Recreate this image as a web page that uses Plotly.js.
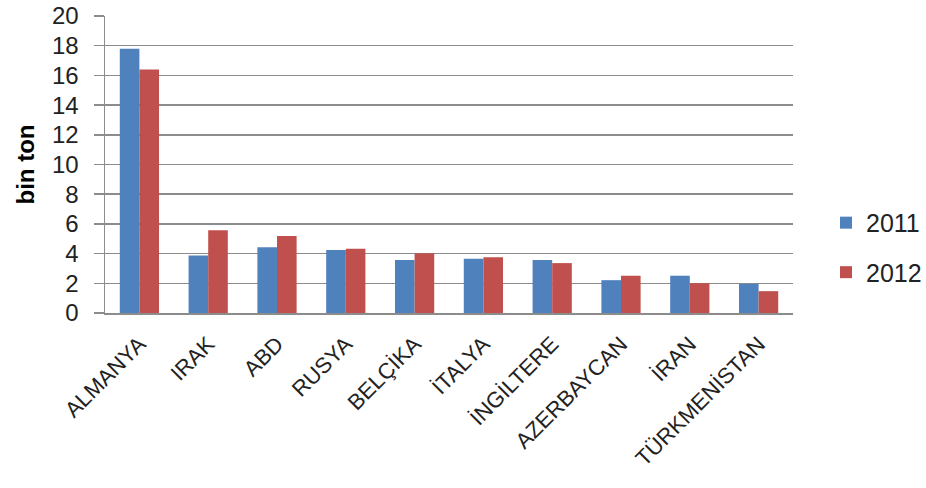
<!DOCTYPE html>
<html>
<head>
<meta charset="utf-8">
<script src="https://cdn.plot.ly/plotly-3.0.1.min.js"></script>
<style>html,body{margin:0;padding:0;background:#fff;}#chart{width:926px;height:488px;}</style>
</head>
<body>
<div id="chart"></div>
<script>
const categories = ["ALMANYA", "IRAK", "ABD", "RUSYA", "BELÇİKA", "İTALYA", "İNGİLTERE", "AZERBAYCAN", "İRAN", "TÜRKMENİSTAN"];
const values2011 = [17.8, 3.87, 4.43, 4.25, 3.57, 3.66, 3.57, 2.21, 2.51, 1.96];
const values2012 = [16.4, 5.57, 5.19, 4.32, 4.02, 3.75, 3.36, 2.51, 2.01, 1.47];
const yTicks = [0, 2, 4, 6, 8, 10, 12, 14, 16, 18, 20];

const FONT = "'Liberation Sans', Arial, sans-serif";

const traces = [
  {type: "bar", name: "2011", x: categories, y: values2011, marker: {color: "#4F81BD"}, legendgroup: "a"},
  {type: "bar", name: "2012", x: categories, y: values2012, marker: {color: "#C0504D"}, legendgroup: "b"}
];

const layout = {
  width: 926, height: 488,
  margin: {l: 105, r: 133, t: 16, b: 175},
  paper_bgcolor: "#fff", plot_bgcolor: "#fff",
  font: {family: FONT, color: "#222", size: 20},
  barmode: "group",
  bargap: 0.43,
  bargroupgap: 0,
  showlegend: true,
  legend: {
    xref: "container", yref: "container",
    x: 0.892, xanchor: "left", y: 0.493, yanchor: "middle",
    font: {size: 25, family: FONT, color: "#222"},
    traceorder: "grouped", tracegroupgap: 14,
    itemwidth: 30
  },
  xaxis: {
    tickangle: -45,
    tickfont: {size: 22, family: FONT, color: "#222"},
    ticklabelstandoff: 8,
    showline: true, linecolor: "#8c8c8c", linewidth: 1.5,
    ticks: "", showgrid: false
  },
  yaxis: {
    range: [0, 20], tickvals: yTicks, ticktext: yTicks.map(String),
    tickfont: {size: 24, family: FONT, color: "#222"},
    ticklabelstandoff: 10,
    showline: true, linecolor: "#8c8c8c", linewidth: 1.5,
    ticks: "outside", ticklen: 10, tickcolor: "#8c8c8c", tickwidth: 1.5,
    showgrid: true, gridcolor: "#8c8c8c", gridwidth: 1.5,
    zeroline: false,
    title: {text: "<b>bin ton</b>", font: {size: 24, family: FONT, color: "#000"}, standoff: 10}
  }
};

Plotly.newPlot("chart", traces, layout, {displayModeBar: false, staticPlot: true});
</script>
</body>
</html>
